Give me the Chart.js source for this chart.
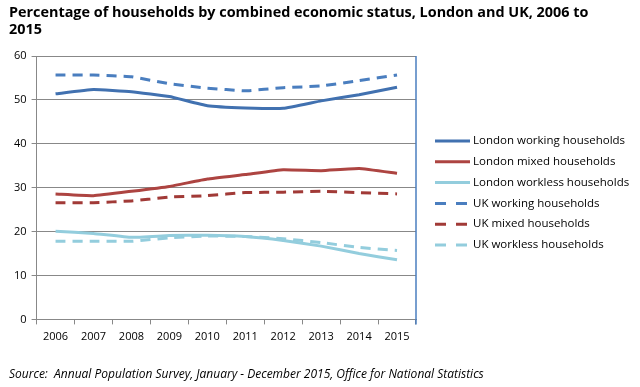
<!DOCTYPE html>
<html>
<head>
<meta charset="utf-8">
<script src="https://cdn.jsdelivr.net/npm/chart.js@4/dist/chart.umd.min.js"></script>
<style>
  html, body { margin: 0; padding: 0; background: #fff; }
  #wrap { width: 640px; height: 387px; position: relative; }
</style>
</head>
<body>
<div id="wrap"><canvas id="lineChart"></canvas></div>
<script>
const years = ['2006', '2007', '2008', '2009', '2010', '2011', '2012', '2013', '2014', '2015'];

const londonWorking  = [51.4, 52.4, 51.9, 50.8, 48.7, 48.2, 48.1, 49.8, 51.2, 52.9];
const londonMixed    = [28.6, 28.2, 29.2, 30.3, 32.0, 33.0, 34.1, 33.9, 34.4, 33.3];
const londonWorkless = [20.1, 19.6, 18.7, 19.1, 19.2, 18.9, 18.0, 16.7, 15.0, 13.6];
const ukWorking      = [55.7, 55.7, 55.3, 53.7, 52.7, 52.1, 52.8, 53.2, 54.4, 55.7];
const ukMixed        = [26.6, 26.6, 27.0, 27.9, 28.2, 28.9, 29.0, 29.2, 28.9, 28.6];
const ukWorkless     = [17.8, 17.8, 17.8, 18.6, 19.0, 18.9, 18.4, 17.5, 16.4, 15.7];

const yTicks = [0, 10, 20, 30, 40, 50, 60];

const font = "'Open Sans', 'DejaVu Sans', sans-serif";

function series(label, data, color, dashed) {
    return {
        label: label,
        data: data,
        borderColor: color,
        backgroundColor: color,
        borderWidth: 3,
        borderDash: dashed ? [10, 7] : [],
        pointRadius: 0,
        tension: 0.1,
        fill: false
    };
}

// right-hand border of the plot area, and the legend drawn beside it
const sidePlugin = {
    id: 'side',
    afterDraw(chart) {
        const c = chart.ctx;
        const a = chart.chartArea;
        c.save();
        c.strokeStyle = '#4a7ebf';
        c.lineWidth = 1.5;
        c.beginPath();
        c.moveTo(a.right, a.top);
        c.lineTo(a.right, a.bottom + 5);
        c.stroke();

        const x0 = a.right + 19;
        let y = 141;
        c.font = '11.5px ' + font;
        c.textBaseline = 'middle';
        chart.data.datasets.forEach(ds => {
            c.strokeStyle = ds.borderColor;
            c.lineWidth = 3;
            c.setLineDash(ds.borderDash.length ? [11, 10] : []);
            c.beginPath();
            c.moveTo(x0, y);
            c.lineTo(x0 + 35, y);
            c.stroke();
            c.setLineDash([]);
            c.fillStyle = '#000';
            c.fillText(ds.label, x0 + 38, y);
            y += 20.8;
        });
        c.restore();
    }
};

const ctx = document.getElementById('lineChart').getContext('2d');
const chart = new Chart(ctx, {
    type: 'line',
    data: {
        labels: years,
        datasets: [
            series('London working households', londonWorking, '#4171b0', false),
            series('London mixed households', londonMixed, '#ad4441', false),
            series('London workless households', londonWorkless, '#93cddd', false),
            series('UK working households', ukWorking, '#4a7ebf', true),
            series('UK mixed households', ukMixed, '#a13a37', true),
            series('UK workless households', ukWorkless, '#93cddd', true)
        ]
    },
    options: {
        responsive: true,
        maintainAspectRatio: false,
        animation: false,
        layout: {
            padding: { left: 9, right: 4, top: 0, bottom: 2 }
        },
        plugins: {
            title: {
                display: true,
                text: ['Percentage of households by combined economic status, London and UK, 2006 to', '2015'],
                align: 'start',
                color: '#000',
                font: { family: font, size: 14.4, weight: 'bold', lineHeight: 1.15 },
                padding: { top: 5, bottom: 18 }
            },
            subtitle: {
                display: true,
                position: 'bottom',
                text: 'Source:  Annual Population Survey, January - December 2015, Office for National Statistics',
                align: 'start',
                color: '#000',
                font: { family: font, size: 12, style: 'italic' },
                padding: { top: 18, bottom: 3 }
            },
            legend: { display: false },
            tooltip: { enabled: false }
        },
        scales: {
            x: {
                offset: true,
                grid: {
                    display: true,
                    offset: true,
                    drawOnChartArea: false,
                    drawTicks: true,
                    tickLength: 5,
                    color: '#888'
                },
                border: { color: '#888', width: 1 },
                ticks: {
                    color: '#000',
                    font: { family: font, size: 11 },
                    padding: 6,
                    maxRotation: 0
                }
            },
            y: {
                min: 0,
                max: 60,
                afterBuildTicks: axis => { axis.ticks = yTicks.map(v => ({ value: v })); },
                grid: {
                    color: '#888',
                    lineWidth: 1,
                    tickLength: 5
                },
                border: { color: '#888', width: 1 },
                ticks: {
                    color: '#000',
                    font: { family: font, size: 11 },
                    padding: 5
                }
            },
            // empty axis that only reserves room for the legend
            space: {
                position: 'right',
                min: 0,
                max: 60,
                grid: { drawOnChartArea: false, drawTicks: false },
                border: { display: false },
                ticks: { display: false },
                afterFit: axis => { axis.width = 220; }
            }
        }
    },
    plugins: [sidePlugin]
});
</script>
</body>
</html>
